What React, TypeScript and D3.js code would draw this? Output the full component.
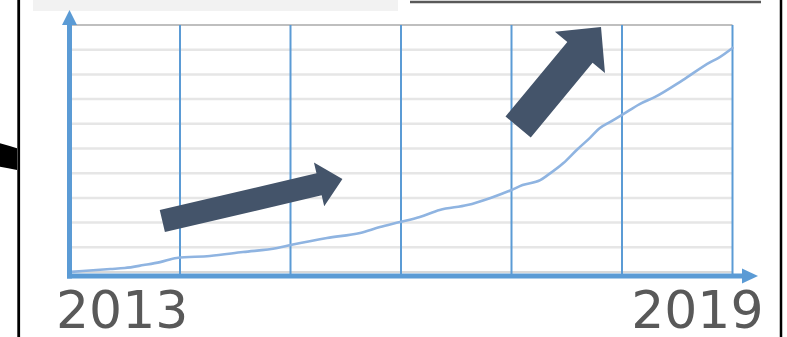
import React from "react";
import * as d3 from "d3";

// ---- data ----
const tickLabels = ["2013", "2019"];
const gridYears = [2014, 2015, 2016, 2017, 2018, 2019];
const gridValues = [10, 20, 30, 40, 50, 60, 70, 80, 90];

const lineDates = [
  2013.0, 2013.12, 2013.37, 2013.5, 2013.67, 2013.82, 2013.97, 2014.27, 2014.57,
  2014.88, 2015.0, 2015.33, 2015.63, 2015.81, 2015.99, 2016.17, 2016.35, 2016.6,
  2016.81, 2017.0, 2017.1, 2017.26, 2017.33, 2017.47, 2017.59, 2017.71, 2017.8,
  2017.89, 2018.0, 2018.16, 2018.3, 2018.55, 2018.8, 2018.87, 2019.0,
];
const lineValues = [
  0, 0.4, 1.2, 1.6, 2.8, 4.0, 5.7, 6.5, 8.1,
  9.7, 10.9, 13.8, 15.8, 18.2, 20.2, 22.3, 25.1, 27.1,
  30.0, 33.2, 35.2, 37.2, 39.3, 44.1, 49.4, 54.3, 58.3,
  60.7, 63.6, 68.0, 70.9, 77.7, 85.0, 86.6, 90.7,
];

// annotation arrows (data coordinates)
const arrowTailDates = [2013.84, 2017.06];
const arrowTailValues = [20.6, 58.7];
const arrowTipDates = [2015.47, 2017.81];
const arrowTipValues = [37.7, 99.2];
const arrowShaftWidths = [22.6, 32.8];
const arrowHeadWidths = [45, 65];
const arrowHeadLengths = [24, 33];

const W = 787;
const H = 337;
const AXIS = "#5b9bd5";

function arrowPoints(x0: number, y0: number, x1: number, y1: number, sw: number, hw: number, hl: number) {
  const dx = x1 - x0, dy = y1 - y0;
  const len = Math.hypot(dx, dy);
  const ux = dx / len, uy = dy / len;
  const nx = -uy, ny = ux;
  const bx = x1 - ux * hl, by = y1 - uy * hl;
  const pts = [
    [x0 + nx * sw / 2, y0 + ny * sw / 2],
    [bx + nx * sw / 2, by + ny * sw / 2],
    [bx + nx * hw / 2, by + ny * hw / 2],
    [x1, y1],
    [bx - nx * hw / 2, by - ny * hw / 2],
    [bx - nx * sw / 2, by - ny * sw / 2],
    [x0 - nx * sw / 2, y0 - ny * sw / 2],
  ];
  return pts.map((p) => p.join(",")).join(" ");
}

export default function App() {
  const x = d3.scaleLinear().domain([2013, 2019]).range([69.5, 732.5]);
  const y = d3.scaleLinear().domain([0, 100]).range([272, 25]);
  const line = d3
    .line<number>()
    .x((_, i) => x(lineDates[i]))
    .y((d) => y(d))
    .curve(d3.curveMonotoneX);

  const x0 = x(2013);
  const x1 = x(2019);
  const yBase = y(0) + 4;

  return (
    <svg
      width={W}
      height={H}
      style={{ position: "absolute", left: 0, top: 0, background: "#fff" }}
      xmlns="http://www.w3.org/2000/svg"
    >
      <defs>
        <filter id="soft" x="-5%" y="-5%" width="110%" height="110%">
          <feGaussianBlur stdDeviation="0.5" />
        </filter>
      </defs>
      {/* surrounding slide fragments */}
      <rect x={33} y={0} width={365} height={11} fill="#f2f2f2" />
      <line x1={410} x2={761} y1={2} y2={2} stroke="#595959" strokeWidth={2.5} />
      <line x1={18.7} x2={18.7} y1={0} y2={H} stroke="#000" strokeWidth={2.8} />
      <line x1={781} x2={781} y1={0} y2={H} stroke="#000" strokeWidth={2.5} />
      <path d="M0,143.3 Q8,145.5 17,148.3 L17,170 Q8,168 0,166.7 Z" fill="#000" />

      {/* horizontal grid */}
      {gridValues.map((v) => (
        <line key={v} x1={x0} x2={x1} y1={y(v)} y2={y(v)} stroke="#e6e6e6" strokeWidth={2.5} />
      ))}
      <line x1={x0} x2={x1} y1={y(0)} y2={y(0)} stroke="#d9d9d9" strokeWidth={2} />
      <line x1={x0} x2={x1} y1={y(100)} y2={y(100)} stroke="#bfbfbf" strokeWidth={2} />

      {/* vertical grid */}
      {gridYears.map((yr) => (
        <line key={yr} x1={x(yr)} x2={x(yr)} y1={y(100)} y2={yBase} stroke={AXIS} strokeWidth={2} />
      ))}

      {/* data line */}
      <path
        d={line(lineValues) || ""}
        fill="none"
        stroke="#8fb4e1"
        strokeWidth={2.6}
        strokeLinejoin="round"
        strokeLinecap="round"
        filter="url(#soft)"
      />

      {/* axes */}
      <line x1={x0} x2={x0} y1={yBase + 2.5} y2={24} stroke={AXIS} strokeWidth={5} />
      <polygon points={`${x0},10 ${x0 - 7.5},25 ${x0 + 7.5},25`} fill={AXIS} />
      <line x1={x0 - 2.5} x2={743} y1={yBase} y2={yBase} stroke={AXIS} strokeWidth={5} />
      <polygon points={`758,${yBase} 742,${yBase - 7.5} 742,${yBase + 7.5}`} fill={AXIS} />

      {/* annotation arrows */}
      {arrowTailDates.map((_, i) => (
        <polygon
          key={i}
          points={arrowPoints(
            x(arrowTailDates[i]),
            y(arrowTailValues[i]),
            x(arrowTipDates[i]),
            y(arrowTipValues[i]),
            arrowShaftWidths[i],
            arrowHeadWidths[i],
            arrowHeadLengths[i]
          )}
          fill="#44546a"
        />
      ))}

      {/* labels */}
      <text
        x={x(2013) - 13.5}
        y={328}
        fontFamily="DejaVu Sans"
        fontSize={52}
        fill="#595959"
        textAnchor="start"
      >
        {tickLabels[0]}
      </text>
      <text
        x={x(2019) + 31}
        y={328}
        fontFamily="DejaVu Sans"
        fontSize={52}
        fill="#595959"
        textAnchor="end"
      >
        {tickLabels[1]}
      </text>
    </svg>
  );
}
